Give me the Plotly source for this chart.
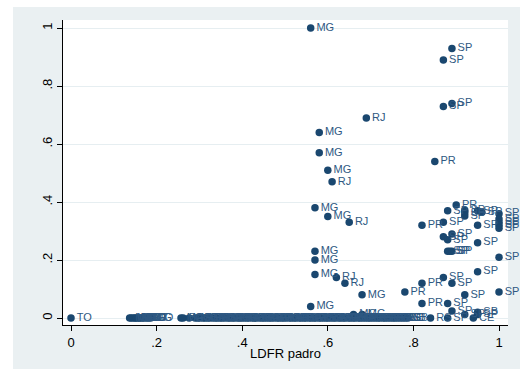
import plotly.graph_objects as go

# Scattered (non-zero) observations
pts_x = [0.56, 0.89, 0.87, 0.89, 0.87, 0.69, 0.58, 0.58, 0.85, 0.60, 0.61,
         0.57, 0.60, 0.65, 0.57, 0.57, 0.57, 0.62, 0.64, 0.68, 0.56,
         0.90, 0.88, 0.92, 0.92, 0.92, 0.95, 0.96, 1.00, 1.00, 1.00, 1.00, 1.00,
         0.82, 0.87, 0.95, 0.89, 0.87, 0.88, 0.95, 0.88, 0.885, 0.89, 1.00,
         0.95, 0.87, 0.82, 0.89, 0.78, 1.00, 0.92, 0.82, 0.88, 0.89, 0.95,
         0.92, 0.95, 0.66, 0.68]
pts_y = [1.00, 0.93, 0.89, 0.74, 0.73, 0.69, 0.64, 0.57, 0.54, 0.51, 0.47,
         0.38, 0.35, 0.33, 0.23, 0.20, 0.15, 0.14, 0.12, 0.08, 0.04,
         0.39, 0.37, 0.372, 0.363, 0.352, 0.37, 0.365, 0.36, 0.342, 0.33, 0.32, 0.31,
         0.32, 0.33, 0.32, 0.29, 0.28, 0.27, 0.26, 0.23, 0.23, 0.23, 0.21,
         0.16, 0.14, 0.12, 0.12, 0.09, 0.09, 0.08, 0.05, 0.05, 0.024, 0.02,
         0.012, 0.012, 0.012, 0.012]
pts_lab = ["MG", "SP", "SP", "SP", "SP", "RJ", "MG", "MG", "PR", "MG", "RJ",
           "MG", "MG", "RJ", "MG", "MG", "MG", "RJ", "RJ", "MG", "MG",
           "PR", "SP", "SP", "SP", "SP", "SP", "SP", "SP", "SP", "SP", "SP", "SP",
           "PR", "SP", "SP", "SP", "SP", "SP", "SP", "SP", "SP", "SP", "SP",
           "SP", "SP", "PR", "SP", "PR", "SP", "SP", "PR", "SP", "SP", "SB",
           "SP", "SP", "MG", "MG"]

# Observations lying on zero
zero_x = [0.0,
          0.137, 0.141, 0.146, 0.150, 0.153, 0.158, 0.161, 0.166, 0.170, 0.176, 0.181, 0.186,
          0.257, 0.262, 0.276, 0.290, 0.296, 0.301, 0.308, 0.313, 0.319, 0.324, 0.331,
          0.337, 0.342, 0.348, 0.353, 0.359, 0.366, 0.371, 0.377, 0.382, 0.389, 0.394,
          0.399, 0.405, 0.411, 0.416, 0.423, 0.428, 0.433, 0.440, 0.446, 0.451, 0.457,
          0.463, 0.468, 0.474, 0.481, 0.486, 0.492, 0.497, 0.503, 0.510, 0.515, 0.521,
          0.526, 0.533, 0.538, 0.544, 0.549, 0.556, 0.561, 0.567, 0.572, 0.579, 0.584,
          0.590, 0.596, 0.601, 0.607, 0.613, 0.618, 0.625, 0.630, 0.636, 0.641, 0.648,
          0.653, 0.659, 0.664, 0.671, 0.676, 0.682, 0.688, 0.694, 0.699, 0.705, 0.711,
          0.717, 0.722, 0.729, 0.734, 0.740, 0.746, 0.752, 0.757, 0.763, 0.769, 0.775,
          0.781, 0.787, 0.84, 0.88, 0.94]
zero_lab = ["TO",
            "MT", "MG", "GO", "MG", "MT", "GO", "MS", "MG", "GO", "MT", "MG", "GO",
            "MG", "BA", "GO", "MG", "SC", "RS", "MG", "BA", "GO", "PR", "MG",
            "RS", "SC", "MG", "BA", "MG", "GO", "RS", "PR", "MG", "SC", "BA",
            "MG", "RS", "GO", "MG", "PR", "SC", "MG", "BA", "RS", "MG", "GO",
            "MG", "SC", "PR", "MG", "RS", "BA", "MG", "GO", "SC", "MG", "PR",
            "RS", "MG", "BA", "MG", "SC", "GO", "MG", "RS", "PR", "MG", "SC",
            "MG", "BA", "MG", "RS", "GO", "MG", "SC", "PR", "MG", "RS", "MG",
            "SC", "MG", "BA", "MG", "RS", "SC", "PR", "MG", "RS", "SC", "MG",
            "PR", "SC", "RS", "MG", "SC", "PR", "RS", "SC", "MG", "RS", "SC",
            "SB", "SB", "RS", "SP", "CE"]

x_all = pts_x + zero_x
y_all = pts_y + [0.0] * len(zero_x)
lab_all = pts_lab + zero_lab

x_ticks = [0, 0.2, 0.4, 0.6, 0.8, 1]
x_ticktext = ["0", ".2", ".4", ".6", ".8", "1"]
y_ticks = [0, 0.2, 0.4, 0.6, 0.8, 1]
y_ticktext = ["0", ".2", ".4", ".6", ".8", "1"]

NAVY = "#1a476f"
BG = "#eaf0f2"
FONT = "Arial, Liberation Sans, sans-serif"

fig = go.Figure()
fig.add_trace(go.Scatter(
    x=x_all, y=y_all, text=lab_all, mode="markers+text",
    textposition="middle right",
    marker=dict(color=NAVY, size=7.5, line=dict(width=0)),
    textfont=dict(family=FONT, size=11, color="#2e5882"),
    cliponaxis=False, showlegend=False, hoverinfo="x+y+text",
))

W, H = 520, 369
L, R, T, B = 63, 12, 20, 44
pw, ph = W - L - R, H - T - B

def px(xp):
    return (xp - L) / pw

def py(yp):
    return (H - B - yp) / ph

fig.update_layout(
    width=W, height=H,
    margin=dict(l=L, r=R, t=T, b=B, pad=0, autoexpand=False),
    paper_bgcolor=BG, plot_bgcolor="white",
    font=dict(family=FONT, size=13, color="black"),
    shapes=[
        dict(type="rect", xref="paper", yref="paper", x0=px(-5), x1=px(W + 5),
             y0=py(7), y1=py(-5), fillcolor="white", line=dict(width=0), layer="below"),
        dict(type="rect", xref="paper", yref="paper", x0=px(-5), x1=px(13),
             y0=py(H + 5), y1=py(-5), fillcolor="white", line=dict(width=0), layer="below"),
    ],
    xaxis=dict(
        range=[-0.0187, 1.021], tickvals=x_ticks, ticktext=x_ticktext,
        automargin=False,
        showgrid=False, zeroline=False, showline=True, linecolor="black", linewidth=1,
        ticks="outside", ticklen=5, tickcolor="black", tickwidth=1,
        tickfont=dict(family=FONT, size=13, color="black"),
        title=dict(text="LDFR padro", font=dict(family=FONT, size=13, color="black"), standoff=0),
    ),
    yaxis=dict(
        range=[-0.024, 1.028], tickvals=y_ticks, ticktext=y_ticktext, tickangle=-90,
        automargin=False,
        showgrid=True, gridcolor="#e6eef1", gridwidth=1,
        zeroline=False, showline=True, linecolor="black", linewidth=1,
        ticks="outside", ticklen=5, tickcolor="black", tickwidth=1,
        tickfont=dict(family=FONT, size=13, color="black"),
    ),
)

fig.write_html("out.html")
